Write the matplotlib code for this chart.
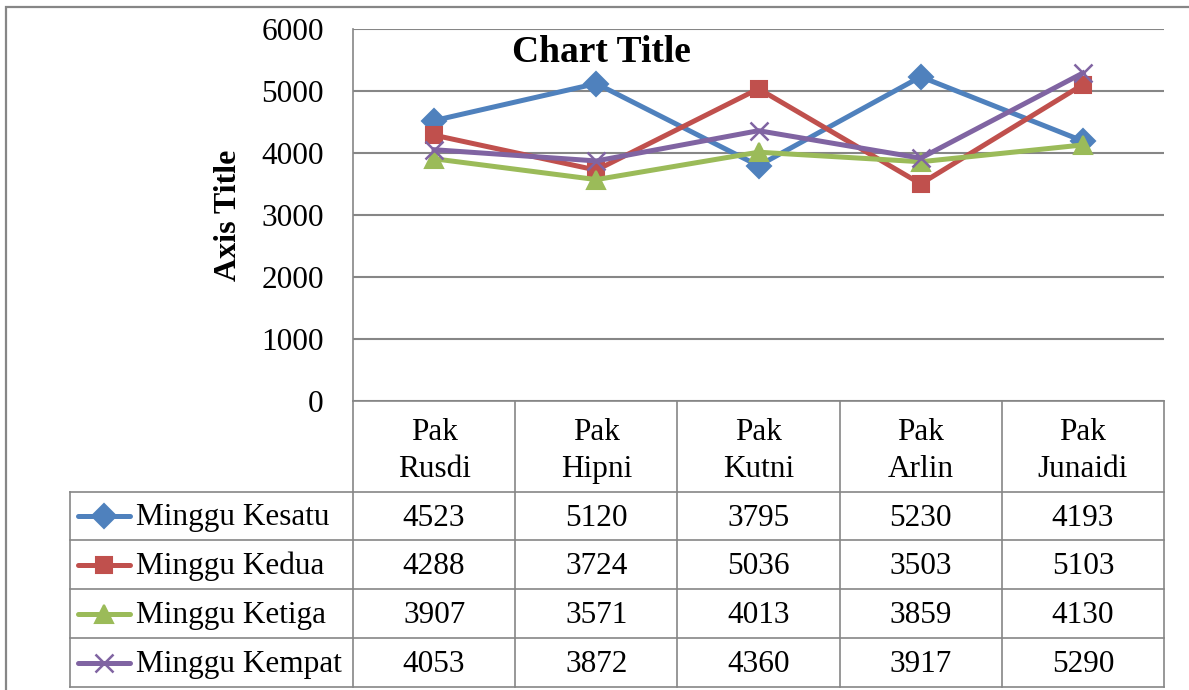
import matplotlib
matplotlib.use("Agg")
import matplotlib.pyplot as plt
from matplotlib.lines import Line2D
from matplotlib.patches import Rectangle

plt.rcParams['font.family'] = ['Liberation Serif', 'DejaVu Serif']

categories = ["Pak\nRusdi", "Pak\nHipni", "Pak\nKutni", "Pak\nArlin", "Pak\nJunaidi"]
series_names = ["Minggu Kesatu", "Minggu Kedua", "Minggu Ketiga", "Minggu Kempat"]
kesatu = [4523, 5120, 3795, 5230, 4193]
kedua = [4288, 3724, 5036, 3503, 5103]
ketiga = [3907, 3571, 4013, 3859, 4130]
kempat = [4053, 3872, 4360, 3917, 5290]
series_values = [kesatu, kedua, ketiga, kempat]
colors = ["#4F81BD", "#C0504D", "#9BBB59", "#8064A2"]
markers = ["D", "s", "^", "x"]
yticks = [0, 1000, 2000, 3000, 4000, 5000, 6000]

W, H = 1189, 690
fig = plt.figure(figsize=(W / 100, H / 100), dpi=100)

def fx(x):
    return x / W

def fy(y):
    return 1 - y / H

FS = 22.5
GRID = "#868686"
# outer border
fig.patches.append(Rectangle((fx(6), fy(720)), fx(1250 - 6), fy(7) - fy(720),
                             transform=fig.transFigure, fill=False,
                             edgecolor=GRID, linewidth=1.6))

L, R, T, B = 353, 1164, 29, 401
ax = fig.add_axes([fx(L), fy(B), fx(R - L), fy(T) - fy(B)])
n = len(categories)
ax.set_xlim(0, n)
ax.set_ylim(0, 6000)
ax.set_yticks(yticks)
ax.set_yticklabels([str(v) for v in yticks], fontsize=FS)
ax.tick_params(axis='y', length=0, pad=21)
ax.set_xticks([])
ax.grid(axis='y', color=GRID, linewidth=1.5)
ax.set_axisbelow(True)
for s in ["top", "right", "bottom"]:
    ax.spines[s].set_visible(False)
ax.spines["left"].set_color(GRID)
ax.spines["left"].set_linewidth(1.2)

xs = [i + 0.5 for i in range(n)]
msizes = [12, 12, 13, 13]
LW = 3.6
for vals, c, m, ms in zip(series_values, colors, markers, msizes):
    ax.plot(xs, vals, color=c, linewidth=LW, marker=m, markersize=ms,
            markeredgecolor=c, markeredgewidth=1.5 if m != "x" else 1.8,
            clip_on=False, zorder=3)

ax.set_ylabel("Axis Title", fontsize=23, fontweight="bold")
ax.yaxis.set_label_coords((243 - L) / (R - L), 0.5)

fig.text(fx(601), fy(52), "Chart Title", ha="center", va="center",
         fontsize=27, fontweight="bold")

# data table
TL = 70
header_bottom = 492
row_bounds = [492, 540, 589, 638, 687]
col_w = (R - L) / n

def hline(x0, x1, y):
    fig.lines.append(Line2D([fx(x0), fx(x1)], [fy(y), fy(y)],
                            transform=fig.transFigure, color=GRID, linewidth=1.2))

def vline(x, y0, y1):
    fig.lines.append(Line2D([fx(x), fx(x)], [fy(y0), fy(y1)],
                            transform=fig.transFigure, color=GRID, linewidth=1.2))

hline(L, R, B)
for y in row_bounds:
    hline(TL, R, y)
for i in range(n + 1):
    vline(L + i * col_w, B, row_bounds[-1])
vline(TL, header_bottom, row_bounds[-1])

for i, cat in enumerate(categories):
    cx = L + (i + 0.5) * col_w
    fig.text(fx(cx), fy(451), cat, ha="center", va="center",
             fontsize=FS, linespacing=1.33)

for r, (name, vals, c, m, ms) in enumerate(zip(series_names, series_values, colors, markers, msizes)):
    cy = (row_bounds[r] + row_bounds[r + 1]) / 2
    ty = cy + 2
    fig.lines.append(Line2D([fx(78), fx(130)], [fy(cy), fy(cy)],
                            transform=fig.transFigure, color=c, linewidth=LW,
                            solid_capstyle="round"))
    fig.lines.append(Line2D([fx(104)], [fy(cy)], transform=fig.transFigure,
                            marker=m, markersize=ms, color=c, markeredgecolor=c,
                            markeredgewidth=1.5 if m != "x" else 1.8, linestyle="none"))
    fig.text(fx(136), fy(ty), name, ha="left", va="center", fontsize=FS)
    for i, v in enumerate(vals):
        cx = L + (i + 0.5) * col_w
        fig.text(fx(cx), fy(ty), str(v), ha="center", va="center", fontsize=FS)

fig.savefig("out.png", dpi=100)
